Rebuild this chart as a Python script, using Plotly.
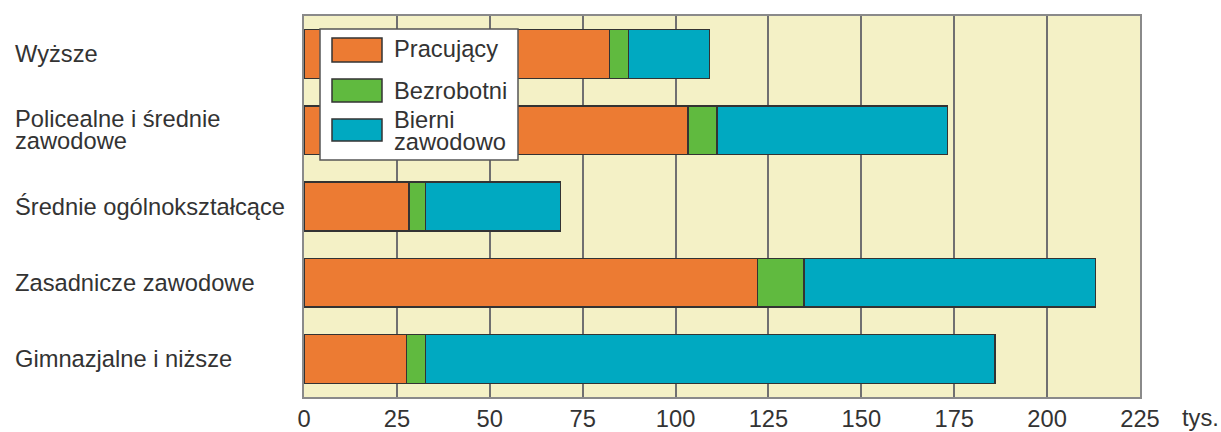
import plotly.graph_objects as go

categories = ["Wyższe", "Policealne i średnie<br>zawodowe", "Średnie ogólnokształcące",
              "Zasadnicze zawodowe", "Gimnazjalne i niższe"]
pracujacy = [82.2, 103.4, 28.3, 122.0, 27.6]
bezrobotni = [5.1, 7.7, 4.4, 12.6, 5.1]
bierni = [21.8, 62.1, 36.4, 78.4, 153.3]
series_names = ["Pracujący", "Bezrobotni", "Bierni<br>zawodowo"]
colors = ["#EC7B33", "#60BA3F", "#00A9C1"]
x_ticks = [0, 25, 50, 75, 100, 125, 150, 175, 200, 225]
unit_label = "tys."

FONT = "Liberation Sans, Arial, sans-serif"
TXT = "#333333"
FS = 23.7

W, H = 1221, 432
PL, PR, PT, PB = 304, 1140, 16, 397  # plot area in page pixels

fig = go.Figure()
for vals, name, col in zip([pracujacy, bezrobotni, bierni], series_names, colors):
    fig.add_trace(go.Bar(
        y=categories, x=vals, name=name, orientation="h",
        marker=dict(color=col, line=dict(color="#333333", width=1.5)),
        width=0.64, showlegend=False,
    ))

fig.update_layout(
    barmode="stack",
    width=W, height=H,
    margin=dict(l=PL, r=W - PR, t=PT, b=H - PB),
    paper_bgcolor="white",
    plot_bgcolor="#F4F1C6",
    font=dict(family=FONT, size=FS, color=TXT),
    xaxis=dict(range=[0, 225], tickvals=x_ticks, showgrid=True, gridcolor="#707070",
               gridwidth=1.5, zeroline=False, showline=True, linecolor="#8a8a8a",
               linewidth=1.5, mirror=True, ticks="", automargin=False,
               tickfont=dict(size=FS, color=TXT)),
    yaxis=dict(categoryorder="array", categoryarray=categories, automargin=False,
               range=[4.5, -0.5], showticklabels=False, showgrid=False, zeroline=False,
               showline=True, linecolor="#8a8a8a", linewidth=1.5, mirror=True),
)

PW = PR - PL
PH = PB - PT


def px_x(p):
    return (p - PL) / PW


def px_y(p):
    return 1 - (p - PT) / PH


LINE = 22
# Left-aligned category labels (tight line spacing)
for c in categories:
    lines = c.split("<br>")
    n = len(lines)
    for i, ln in enumerate(lines):
        shift = ((n - 1) / 2 - i) * LINE
        fig.add_annotation(x=px_x(13), xref="paper", y=c, yref="y", text=ln,
                           xanchor="left", yanchor="middle", showarrow=False,
                           yshift=shift, font=dict(size=FS, color=TXT))

# Unit label
fig.add_annotation(x=px_x(1180), xref="paper", y=px_y(418), yref="paper", text=unit_label,
                   xanchor="left", yanchor="middle", showarrow=False,
                   font=dict(size=FS, color=TXT))

# Custom legend
fig.add_shape(type="rect", xref="paper", yref="paper",
              x0=px_x(320), x1=px_x(518), y0=px_y(160), y1=px_y(29),
              fillcolor="white", line=dict(color="#555555", width=1.5), layer="above")
sw = [(38, 62), (79, 102), (119, 141)]
ty = [48.5, 91, 120]
for (a, b), col, name, t in zip(sw, colors, series_names, ty):
    fig.add_shape(type="rect", xref="paper", yref="paper",
                  x0=px_x(332), x1=px_x(382), y0=px_y(b), y1=px_y(a),
                  fillcolor=col, line=dict(color="#333333", width=1.5), layer="above")
    for i, ln in enumerate(name.split("<br>")):
        fig.add_annotation(x=px_x(392), xref="paper", y=px_y(t + i * LINE), yref="paper",
                           text=ln, xanchor="left", yanchor="middle", showarrow=False,
                           font=dict(size=FS, color=TXT))

fig.write_html(
    "out.html",
    config={"displayModeBar": False},
    post_script="document.body.style.margin='0';document.body.style.overflow='hidden';",
)
